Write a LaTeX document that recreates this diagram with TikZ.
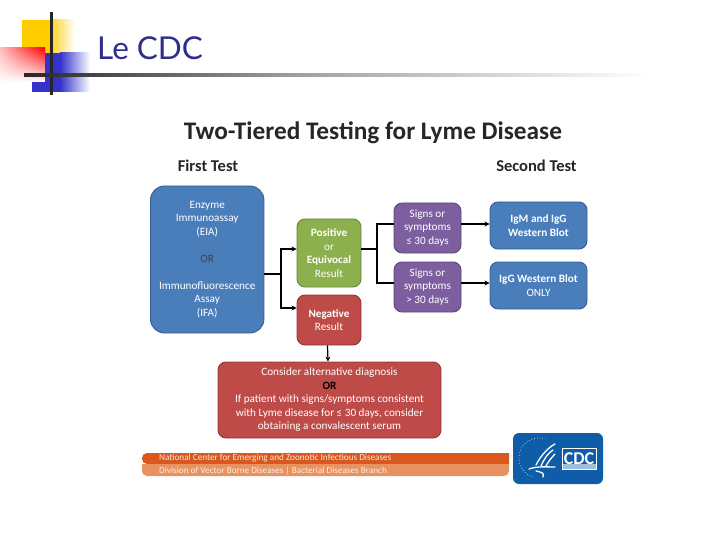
\documentclass[tikz,border=0pt]{standalone}
\usepackage{fontspec}
\setmainfont{Carlito}
\newfontfamily\handfont{Lato}
\usepackage{xcolor}
\usetikzlibrary{arrows.meta,calc,fadings}
\definecolor{cdcblue}{HTML}{4A7EBB}
\definecolor{cdcgreen}{HTML}{8DB04E}
\definecolor{cdcred}{HTML}{BE4B48}
\definecolor{cdcpurple}{HTML}{7D5FA0}
\definecolor{cdcnavy}{HTML}{0F5CA8}
\definecolor{slideink}{HTML}{2E2E8C}
\definecolor{slideyellow}{HTML}{FFCC00}
\definecolor{slideblue}{HTML}{3333CC}
\definecolor{barrust}{HTML}{D9581F}
\definecolor{barsand}{HTML}{E8935F}
\tikzset{
  flowbox/.style={draw=#1!75!black,fill=#1,line width=0.9pt,rounded corners=8pt,text=white,align=center,font=\fontsize{11.2}{13.5}\selectfont,inner sep=0pt},
  flowline/.style={draw=black,line width=1.2pt},
  flowarrow/.style={flowline,-{Stealth[length=5pt,width=5pt]}},
  headtext/.style={font=\fontsize{16.5}{19}\selectfont\bfseries,text=black!85},
  bartext/.style={font=\fontsize{9.2}{10}\selectfont,anchor=west},
  eaglewing/.style={draw=white,line width=1.3pt,line cap=round}
}
\begin{document}
\begin{tikzpicture}[x=1pt,y=-1pt]
  \useasboundingbox (0,0) rectangle (720,540);
  % slide decoration
  \fill[slideyellow] (22,20) rectangle (51,53);
  \shade[left color=slideyellow!85!white,right color=white] (51,20) rectangle (75,53);
  \fill[slideblue] (32,53) rectangle (60,92);
  \shade[left color=slideblue,right color=white] (60,53) rectangle (90,92);
  \shade[left color=red!25!white,right color=red] (0,48) rectangle (45,82);
  \fill[white,path fading=north] (0,48) rectangle (45,82);
  \draw[black!85,line width=3pt] (51.7,12) -- (51.7,95);
  \shade[left color=black!85,right color=black!37] (24,74) rectangle (300,77);
  \shade[left color=black!37,right color=white] (300,74) rectangle (650,77);
  \node[font=\handfont\fontsize{31.5}{36}\selectfont,text=slideink,anchor=west,inner sep=0pt] (slidetitle) at (97,48) {Le CDC};
  % chart headings
  \node[font=\fontsize{25.3}{30}\selectfont\bfseries,text=black!85] (charttitle) at (373,132.5) {Two-Tiered Testing for Lyme Disease};
  \node[headtext] (firsttest) at (208,165.5) {First Test};
  \node[headtext] (secondtest) at (536.5,165.5) {Second Test};
  % boxes
  \node[flowbox=cdcblue,minimum width=113.5pt,minimum height=147pt,rounded corners=14pt] (assay) at (207.2,259.5) {Enzyme\\Immunoassay\\(EIA)\\[13.5pt]{\color{black!75}OR}\\[13.5pt]Immunofluorescence\\Assay\\(IFA)};
  \node[flowbox=cdcgreen,minimum width=64pt,minimum height=68pt] (positive) at (329,253) {\textbf{Positive}\\or\\\textbf{Equivocal}\\Result};
  \node[flowbox=cdcred,minimum width=64pt,minimum height=50pt] (negative) at (329,320) {\textbf{Negative}\\Result};
  \node[flowbox=cdcpurple,minimum width=67pt,minimum height=50pt] (early) at (427.5,228) {Signs or\\symptoms\\≤ 30 days};
  \node[flowbox=cdcpurple,minimum width=67pt,minimum height=50pt] (late) at (427.5,287) {Signs or\\symptoms\\> 30 days};
  \node[flowbox=cdcblue,minimum width=97pt,minimum height=47pt] (igboth) at (538.5,225.5) {\textbf{IgM and IgG}\\\textbf{Western Blot}};
  \node[flowbox=cdcblue,minimum width=97pt,minimum height=47pt] (igonly) at (538.5,285.5) {\textbf{IgG Western Blot}\\ONLY};
  \node[flowbox=cdcred,minimum width=223pt,minimum height=76pt] (advice) at (329.5,400) {Consider alternative diagnosis\\{\color{black}\textbf{OR}}\\If patient with signs/symptoms consistent\\with Lyme disease for ≤ 30 days, consider\\obtaining a convalescent serum};
  % connectors
  \coordinate (assayfork) at (281,274);
  \coordinate (positivein) at (positive.west |- 0,249);
  \coordinate (negativein) at (negative.west |- 0,308);
  \coordinate (resultfork) at (377,249);
  \coordinate (earlyin) at (early.west |- 0,224);
  \coordinate (latein) at (late.west |- 0,283);
  \coordinate (igbothin) at (igboth.west |- 0,224);
  \coordinate (igonlyin) at (igonly.west |- 0,283);
  \coordinate (positiveout) at (positive.east |- 0,249);
  \coordinate (earlyout) at (early.east |- 0,224);
  \coordinate (lateout) at (late.east |- 0,283);
  \draw[flowline] (assay.east |- assayfork) -- (assayfork);
  \draw[flowarrow] (assayfork) |- (positivein);
  \draw[flowarrow] (assayfork) |- (negativein);
  \draw[flowline] (positiveout) -- (resultfork);
  \draw[flowline] (resultfork) |- (earlyin);
  \draw[flowline] (resultfork) |- (latein);
  \draw[flowarrow] (earlyout) -- (igbothin);
  \draw[flowarrow] (lateout) -- (igonlyin);
  \draw[flowarrow] ([xshift=-1.5pt]negative.south) -- ([xshift=-1.5pt]advice.north);
  % footer bars
  \fill[barrust] (509,453) [rounded corners=5pt] -- (142,453) -- (142,464) [sharp corners] -- (509,464) -- cycle;
  \fill[barsand] (509,464) -- (142,464) [rounded corners=5pt] -- (142,476) -- (509,476) [sharp corners] -- cycle;
  \node[bartext,text=white!85!barrust,inner sep=0pt] (centerline) at (159,458.3) {National Center for Emerging and Zoonotic Infectious Diseases};
  \node[bartext,text=white!85!barsand,inner sep=0pt] (divisionline) at (159,471) {Division of Vector Borne Diseases | Bacterial Diseases Branch};
  % logo
  \fill[cdcnavy,rounded corners=6pt] (513,433) rectangle (603,484);
  \draw[white!75!cdcnavy,line width=0.7pt,dotted] plot[domain=109:288,samples=40] ({539+20*cos(\x)},{458+20*sin(\x)});
  \draw[eaglewing] (555,444) .. controls (549,447) and (541,455) .. (536,465);
  \draw[eaglewing] (553,450) .. controls (548,453) and (544,459) .. (541,466);
  \draw[eaglewing] (555,454) .. controls (552,457) and (548,462) .. (546,466);
  \draw[eaglewing] (529,469) .. controls (537,466) and (548,467) .. (555,467);
  \draw[eaglewing] (536,471) .. controls (541,472) and (545,473) .. (543,477);
  \fill[white!60!cdcnavy] (562,464) rectangle (596,469);
  \node[draw=white,line width=0.8pt,font=\fontsize{18}{20}\selectfont\bfseries,text=white,minimum width=34pt,minimum height=21pt,inner sep=0pt] (cdcmark) at (579,458.5) {CDC};
\end{tikzpicture}
\end{document}
